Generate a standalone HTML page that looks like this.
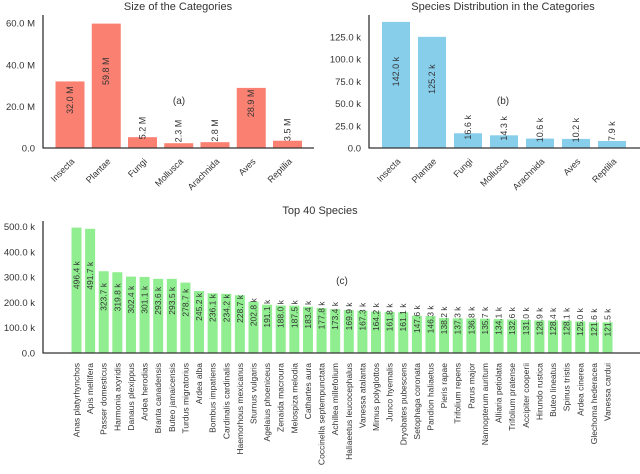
<!DOCTYPE html>
<html><head><meta charset="utf-8"><style>
html,body{margin:0;padding:0;background:#fff;}
svg{display:block;font-family:"Liberation Sans",Arial,sans-serif;}
text{fill:#333;}
</style></head><body>
<svg id="chart" width="640" height="474" viewBox="0 0 640 474" xmlns="http://www.w3.org/2000/svg"></svg>
<script>
const catsA = ["Insecta","Plantae","Fungi","Mollusca","Arachnida","Aves","Reptilia"];
const valsA = [32.0,59.8,5.2,2.3,2.8,28.9,3.5];
const labelsA = ["32.0 M","59.8 M","5.2 M","2.3 M","2.8 M","28.9 M","3.5 M"];
const ticksA = [0,20,40,60];
const tickLabelsA = ["0.0","20.0 M","40.0 M","60.0 M"];

const catsB = ["Insecta","Plantae","Fungi","Mollusca","Arachnida","Aves","Reptilia"];
const valsB = [142.0,125.2,16.6,14.3,10.6,10.2,7.9];
const labelsB = ["142.0 k","125.2 k","16.6 k","14.3 k","10.6 k","10.2 k","7.9 k"];
const ticksB = [0,25,50,75,100,125];
const tickLabelsB = ["0.0","25.0 k","50.0 k","75.0 k","100.0 k","125.0 k"];

const catsC = ["Anas platyrhynchos","Apis mellifera","Passer domesticus","Harmonia axyridis","Danaus plexippus","Ardea herodias","Branta canadensis","Buteo jamaicensis","Turdus migratorius","Ardea alba","Bombus impatiens","Cardinalis cardinalis","Haemorhous mexicanus","Sturnus vulgaris","Agelaius phoeniceus","Zenaida macroura","Melospiza melodia","Cathartes aura","Coccinella septempunctata","Achillea millefolium","Haliaeetus leucocephalus","Vanessa atalanta","Mimus polyglottos","Junco hyemalis","Dryobates pubescens","Setophaga coronata","Pandion haliaetus","Pieris rapae","Trifolium repens","Parus major","Nannopterum auritum","Alliaria petiolata","Trifolium pratense","Accipiter cooperii","Hirundo rustica","Buteo lineatus","Spinus tristis","Ardea cinerea","Glechoma hederacea","Vanessa cardui"];
const valsC = [496.4,491.7,323.7,319.8,302.4,301.1,293.6,293.5,278.7,245.2,236.1,234.2,228.7,202.8,191.1,188.0,187.5,183.4,177.8,173.4,169.9,167.3,164.2,161.8,161.1,147.6,146.3,138.2,137.3,136.8,135.7,134.1,132.6,131.0,128.9,128.4,128.1,125.0,121.6,121.5];
const ticksC = [0,100,200,300,400,500];
const tickLabelsC = ["0.0","100.0 k","200.0 k","300.0 k","400.0 k","500.0 k"];

const svg = document.getElementById('chart');
const NS = "http://www.w3.org/2000/svg";
function mk(tag, attrs, parent){
  const e = document.createElementNS(NS, tag);
  for (const k in attrs) e.setAttribute(k, attrs[k]);
  (parent||svg).appendChild(e);
  return e;
}

function panel(o){
  const g = mk('g', {});
  
  
  const y = v => o.y0 - (v - 0) * o.ky;
  const x = i => o.x0 + i * o.dx;
  const t = mk('text', {x:o.titleX, y:o.titleY, 'font-size':11, 'text-anchor':'middle'}, g);
  t.textContent = o.title;
  
  
  const p = mk('text', {x:o.tagX, y:o.tagY, 'font-size':10, 'text-anchor':'middle'}, g);
  p.textContent = o.tag;
  
  
  o.vals.forEach((v, i) => {
    const r = mk('rect', {x:x(i)-o.bw/2, y:y(v), width:o.bw, height:o.y0-y(v), fill:o.color}, g);
    
    
    const cy = y(v*0.5 + o.labOff);
    const vl = mk('text', {x:x(i), y:cy, 'font-size':o.valFs, 'text-anchor':'middle', 'dominant-baseline':'central', transform:`rotate(-90 ${x(i)} ${cy})`}, g);
    vl.textContent = o.labels[i];
    
    
    const lx = x(i) + (o.rot === 45 ? 5 : 3), ly = o.y0 + o.catDy;
    const cl = mk('text', {x:lx, y:ly, 'font-size':o.catFs, 'text-anchor':'end', transform:`rotate(${o.rot===45?-45:-90} ${lx} ${ly})`}, g);
    cl.textContent = o.cats[i];
    
    
  });
  const ya = mk('line', {x1:o.ax, y1:o.axTop, x2:o.ax, y2:o.y0+0.5, stroke:'#333', 'stroke-width':1.3}, g);
  
  
  const xa = mk('line', {x1:o.ax, y1:o.y0, x2:o.axRight, y2:o.y0, stroke:'#333', 'stroke-width':1.3}, g);
  
  
  o.ticks.forEach((tv, i) => {
    const tl = mk('text', {x:o.ax-8, y:y(tv)+3.5, 'font-size':9.5, 'text-anchor':'end'}, g);
    tl.textContent = o.tickLabels[i];
    
    
  });
}

panel({name:'size-chart', title:'Size of the Categories', titleX:178, titleY:10, tag:'(a)', tagX:179, tagY:104,
  cats:catsA, vals:valsA, labels:labelsA, ticks:ticksA, tickLabels:tickLabelsA,
  x0:70, dx:36.25, bw:29, y0:148, ky:2.08, labOff:7, color:'#fa8072',
  ax:43, axTop:15, axRight:314, valFs:9, catFs:9, rot:45, catDy:14});

panel({name:'species-distribution-chart', title:'Species Distribution in the Categories', titleX:503, titleY:10, tag:'(b)', tagX:503, tagY:104,
  cats:catsB, vals:valsB, labels:labelsB, ticks:ticksB, tickLabels:tickLabelsB,
  x0:396, dx:36, bw:28, y0:148, ky:0.888, labOff:15, color:'#87ceeb',
  ax:369, axTop:15, axRight:640, valFs:9, catFs:9, rot:45, catDy:14});

panel({name:'top-species-chart', title:'Top 40 Species', titleX:320, titleY:214, tag:'(c)', tagX:342, tagY:284,
  cats:catsC, vals:valsC, labels:valsC.map(v => v.toFixed(1) + ' k'), ticks:ticksC, tickLabels:tickLabelsC,
  x0:76.5, dx:13.615, bw:10, y0:353, ky:0.2526, labOff:60, color:'#90ee90',
  ax:43, axTop:221, axRight:640, valFs:8.5, catFs:8.5, rot:90, catDy:10});
</script>
</body></html>
